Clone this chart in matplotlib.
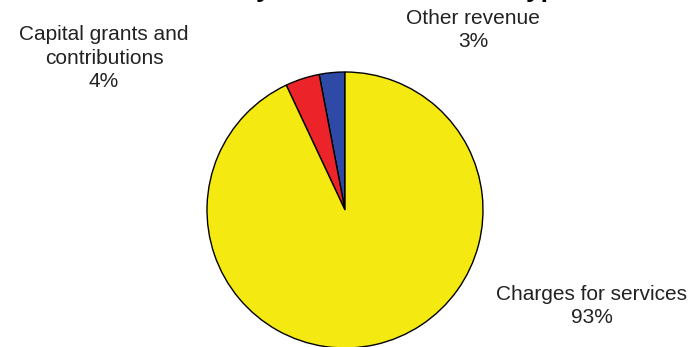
import matplotlib
matplotlib.use("Agg")
from matplotlib import pyplot as plt

plt.rcParams['font.family'] = ['Liberation Sans', 'DejaVu Sans']

# revenue shares, percent
sources = ['Other revenue', 'Capital grants and\ncontributions', 'Charges for services']
shares = [3, 4, 93]
colors = ['#2f4aa6', '#ec2429', '#f4ea12']

W, H = 694, 347
fig = plt.figure(figsize=(W / 100, H / 100), dpi=100)
ax = fig.add_axes([0, 0, 1, 1])

# pie in pixel-like data units
cx, cy, r = 345, H - 210, 138
ax.pie(shares, colors=colors, startangle=90, counterclock=True,
       center=(cx, cy), radius=r,
       wedgeprops=dict(edgecolor='black', linewidth=1.0))
ax.set_xlim(0, W)
ax.set_ylim(0, H)
ax.set_aspect('equal')
ax.axis('off')

# labels
lab_pos = [(473, H - 30), (104, H - 58), (592, H - 306)]
for name, v, (x, y) in zip(sources, shares, lab_pos):
    ax.text(x, y, f"{name}\n{v:.0f}%", ha='center', va='center',
            fontsize=15, color='#222222', linespacing=1.28)

# title, mostly clipped off the top edge
fig.text(0.49, 1 + 3.5 / H, 'Revenues by Source - Business-type',
         ha='center', va='baseline', fontsize=19, fontweight='bold',
         color='black')

fig.savefig('out.png', dpi=100)
